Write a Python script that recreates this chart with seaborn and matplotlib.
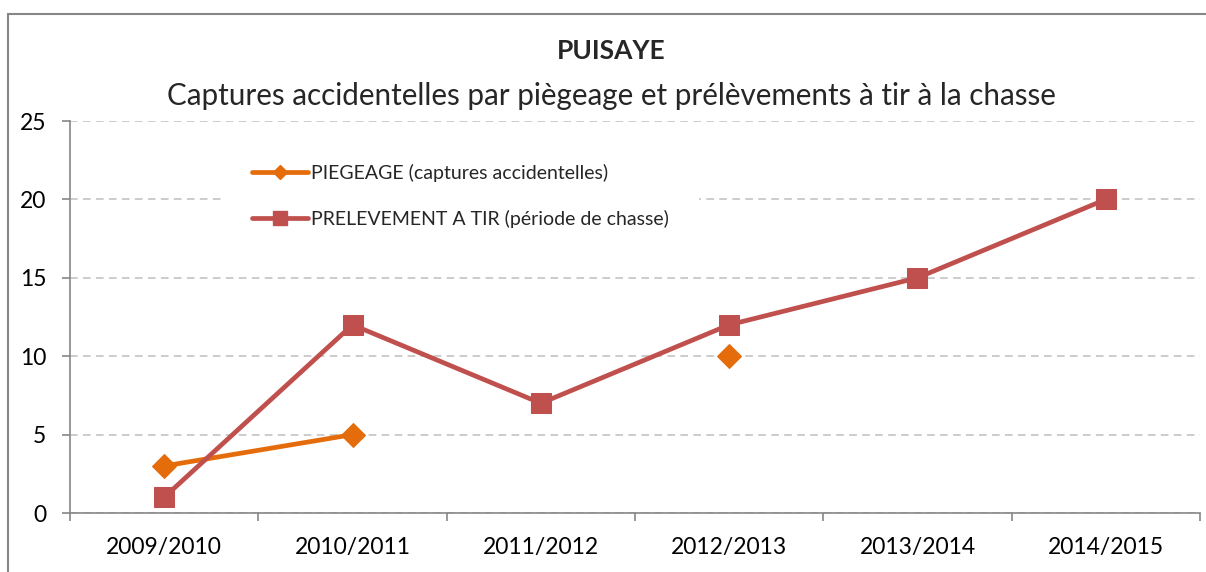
import numpy as np
import pandas as pd
import matplotlib
matplotlib.use("Agg")
import matplotlib.pyplot as plt
import seaborn as sns
from matplotlib.lines import Line2D
from matplotlib.patches import Rectangle

# values
saisons = ["2009/2010", "2010/2011", "2011/2012", "2012/2013", "2013/2014", "2014/2015"]
piegeage = [3, 5, np.nan, 10, np.nan, np.nan]
prelevement = [1, 12, 7, 12, 15, 20]

ORANGE = "#E46C0A"
RED = "#C0504D"
GRID = "#BFBFBF"
AXIS = "#868686"

sns.set_theme(style="white")
plt.rcParams["font.family"] = ["Lato", "DejaVu Sans"]


def to_long(values):
    # split the series at missing values so gaps stay open
    df = pd.DataFrame({"pos": np.arange(len(values)), "val": values})
    df["seg"] = df["val"].isna().cumsum()
    return df.dropna()


df_pie = to_long(piegeage)
df_pre = to_long(prelevement)

fig = plt.figure(figsize=(12.06, 5.72), dpi=100)
ax = fig.add_axes([70 / 1206, 1 - 513 / 572, 1130 / 1206, 392 / 572])

sns.lineplot(data=df_pie, x="pos", y="val", units="seg", estimator=None,
             color=ORANGE, lw=3.4, marker="D", markersize=12,
             markeredgecolor=ORANGE, ax=ax, zorder=3)
sns.lineplot(data=df_pre, x="pos", y="val", units="seg", estimator=None,
             color=RED, lw=3.4, marker="s", markersize=14.5,
             markeredgecolor=RED, ax=ax, zorder=4)

ax.set_xlim(-0.5, len(saisons) - 0.5)
ax.set_ylim(0, 25)
ax.set_yticks(range(0, 26, 5))
ax.set_xticks(np.arange(len(saisons)))
ax.set_xticklabels(saisons)
ax.set_xticks(np.arange(-0.5, len(saisons), 1), minor=True)
ax.set_xlabel("")
ax.set_ylabel("")

ax.yaxis.grid(True, color=GRID, linestyle=(0, (5, 3.5)), linewidth=1.1)
ax.set_axisbelow(True)
for s in ["top", "right"]:
    ax.spines[s].set_visible(False)
for s in ["left", "bottom"]:
    ax.spines[s].set_color(AXIS)
    ax.spines[s].set_linewidth(1.2)

ax.tick_params(axis="y", which="major", left=True, length=6, width=1.2,
               color=AXIS, pad=11, labelsize=16.5, labelcolor="black")
ax.tick_params(axis="x", which="major", bottom=True, length=0, pad=17,
               labelsize=16.5, labelcolor="black")
ax.tick_params(axis="x", which="minor", bottom=True, length=6, width=1.2,
               color=AXIS)

handles = [
    Line2D([], [], color=ORANGE, lw=3.4, marker="D", markersize=7),
    Line2D([], [], color=RED, lw=3.4, marker="s", markersize=10),
]
labels = ["PIEGEAGE (captures accidentelles)", "PRELEVEMENT A TIR (période de chasse)"]
leg = ax.legend(handles, labels, loc="upper left", bbox_to_anchor=(0.1354, 0.965),
                frameon=True, facecolor="white", edgecolor="none", framealpha=1,
                fontsize=14, handlelength=2.85, handletextpad=0.2,
                labelspacing=1.45, borderpad=1.5, borderaxespad=0)

fig.text(0.507, 1 - 51 / 572, "PUISAYE", ha="center", va="center",
         fontsize=19, fontweight="bold")
fig.text(0.507, 1 - 96 / 572,
         "Captures accidentelles par piègeage et prélèvements à tir à la chasse",
         ha="center", va="center", fontsize=21.3)

# chart area frame
fig.patches.append(Rectangle((8 / 1206, -0.5), 1.5, 1.5 - 14 / 572,
                             transform=fig.transFigure, fill=False,
                             edgecolor=AXIS, linewidth=1.5))

fig.savefig("out.png", dpi=100)
